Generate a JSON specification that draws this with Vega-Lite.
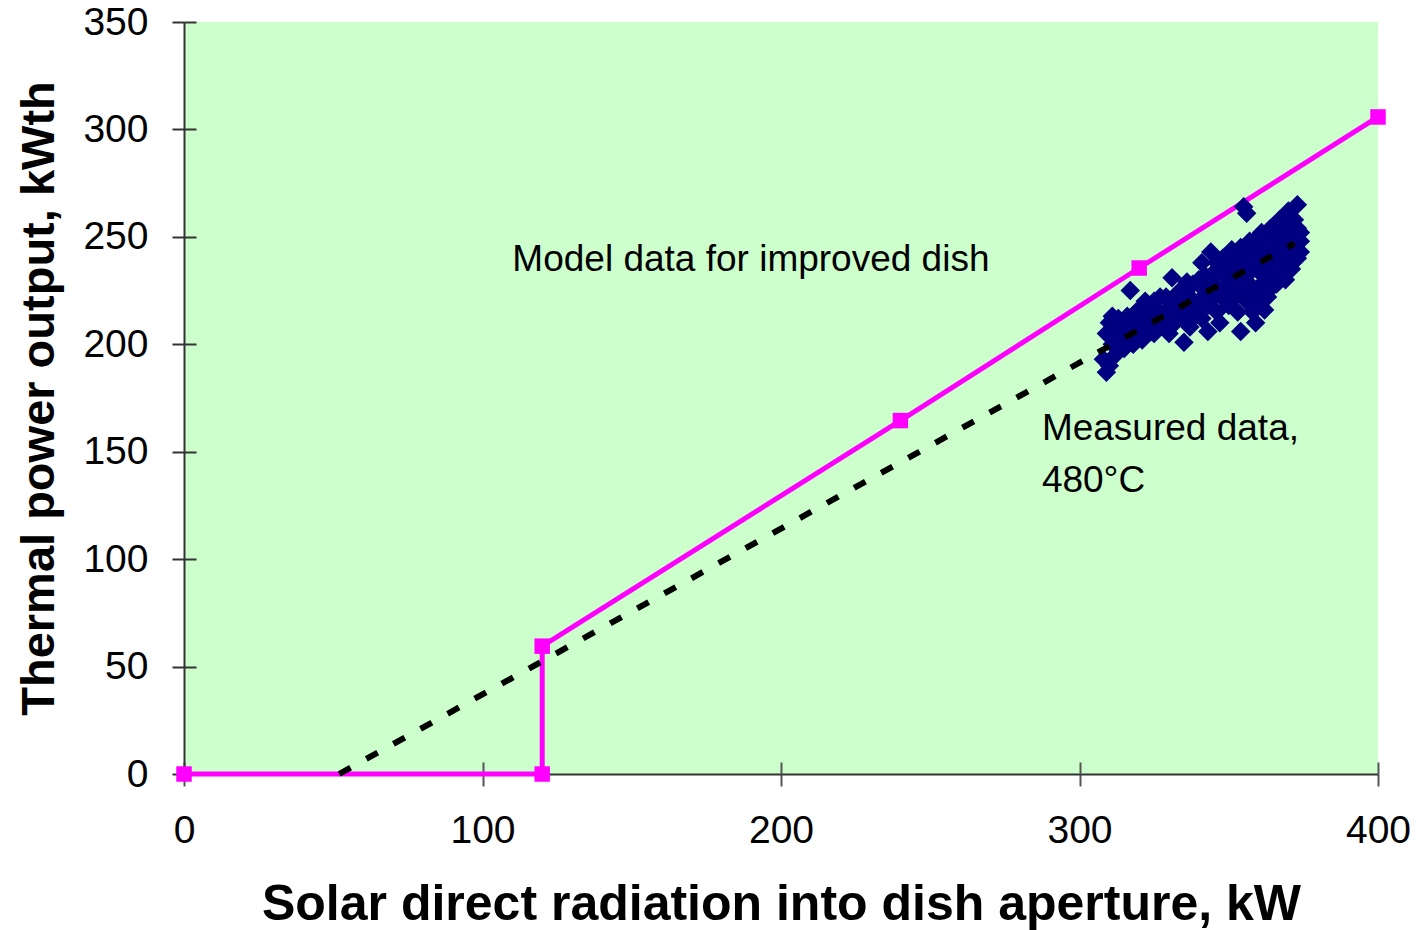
{
  "$schema": "https://vega.github.io/schema/vega-lite/v6.json",
  "autosize": {"type": "none"},
  "padding": {"left": 184, "top": 22, "right": 50, "bottom": 156},
  "width": 1194,
  "height": 752,
  "background": "#FFFFFF",
  "config": {
    "view": {"fill": "#CCFFCC", "stroke": null},
    "font": "Liberation Sans"
  },
  "datasets": {
    "model": [
      {"i": 1, "radiation": 0, "power": 0},
      {"i": 2, "radiation": 120, "power": 0},
      {"i": 3, "radiation": 120, "power": 59.5},
      {"i": 4, "radiation": 240, "power": 164.5},
      {"i": 5, "radiation": 320, "power": 235.5},
      {"i": 6, "radiation": 400, "power": 305.8}
    ],
    "trend": [
      {"radiation": 52, "power": 0},
      {"radiation": 372, "power": 247}
    ],
    "measured": [
      {"radiation": 308, "power": 193}, {"radiation": 309, "power": 187}, {"radiation": 310, "power": 190},
      {"radiation": 309, "power": 205}, {"radiation": 310, "power": 210}, {"radiation": 311, "power": 200},
      {"radiation": 312, "power": 195}, {"radiation": 312, "power": 207}, {"radiation": 313, "power": 212},
      {"radiation": 314, "power": 203}, {"radiation": 315, "power": 198}, {"radiation": 315, "power": 208},
      {"radiation": 316, "power": 213}, {"radiation": 317, "power": 225}, {"radiation": 318, "power": 205},
      {"radiation": 318, "power": 200}, {"radiation": 319, "power": 210}, {"radiation": 320, "power": 216},
      {"radiation": 320, "power": 205}, {"radiation": 321, "power": 202}, {"radiation": 322, "power": 210},
      {"radiation": 323, "power": 218}, {"radiation": 324, "power": 213}, {"radiation": 325, "power": 205},
      {"radiation": 325, "power": 220}, {"radiation": 326, "power": 208}, {"radiation": 327, "power": 215},
      {"radiation": 328, "power": 212}, {"radiation": 329, "power": 222}, {"radiation": 330, "power": 205},
      {"radiation": 330, "power": 217}, {"radiation": 331, "power": 231}, {"radiation": 332, "power": 210},
      {"radiation": 332, "power": 220}, {"radiation": 333, "power": 214}, {"radiation": 334, "power": 225},
      {"radiation": 335, "power": 201}, {"radiation": 335, "power": 218}, {"radiation": 336, "power": 212},
      {"radiation": 337, "power": 222}, {"radiation": 337, "power": 208}, {"radiation": 338, "power": 228},
      {"radiation": 339, "power": 216}, {"radiation": 340, "power": 220}, {"radiation": 340, "power": 230},
      {"radiation": 341, "power": 238}, {"radiation": 341, "power": 212}, {"radiation": 342, "power": 225},
      {"radiation": 343, "power": 206}, {"radiation": 343, "power": 218}, {"radiation": 344, "power": 243},
      {"radiation": 344, "power": 232}, {"radiation": 345, "power": 222}, {"radiation": 345, "power": 228},
      {"radiation": 346, "power": 215}, {"radiation": 347, "power": 210}, {"radiation": 347, "power": 234},
      {"radiation": 348, "power": 225}, {"radiation": 348, "power": 240}, {"radiation": 349, "power": 220},
      {"radiation": 350, "power": 230}, {"radiation": 350, "power": 218}, {"radiation": 351, "power": 236},
      {"radiation": 351, "power": 226}, {"radiation": 352, "power": 240}, {"radiation": 352, "power": 222},
      {"radiation": 353, "power": 230}, {"radiation": 353, "power": 215}, {"radiation": 354, "power": 206},
      {"radiation": 354, "power": 235}, {"radiation": 354, "power": 245}, {"radiation": 355, "power": 226},
      {"radiation": 355, "power": 264}, {"radiation": 355, "power": 240}, {"radiation": 356, "power": 261},
      {"radiation": 356, "power": 220}, {"radiation": 356, "power": 232}, {"radiation": 357, "power": 248},
      {"radiation": 357, "power": 228}, {"radiation": 358, "power": 238}, {"radiation": 358, "power": 215},
      {"radiation": 359, "power": 244}, {"radiation": 359, "power": 225}, {"radiation": 360, "power": 234},
      {"radiation": 360, "power": 250}, {"radiation": 360, "power": 220}, {"radiation": 361, "power": 240},
      {"radiation": 361, "power": 228}, {"radiation": 362, "power": 246}, {"radiation": 362, "power": 232},
      {"radiation": 363, "power": 252}, {"radiation": 363, "power": 236}, {"radiation": 363, "power": 222},
      {"radiation": 364, "power": 240}, {"radiation": 364, "power": 248}, {"radiation": 365, "power": 230},
      {"radiation": 365, "power": 255}, {"radiation": 366, "power": 244}, {"radiation": 366, "power": 236},
      {"radiation": 367, "power": 250}, {"radiation": 367, "power": 240}, {"radiation": 368, "power": 232},
      {"radiation": 368, "power": 258}, {"radiation": 368, "power": 245}, {"radiation": 369, "power": 238},
      {"radiation": 369, "power": 252}, {"radiation": 370, "power": 242}, {"radiation": 370, "power": 248},
      {"radiation": 370, "power": 262}, {"radiation": 371, "power": 235}, {"radiation": 371, "power": 255},
      {"radiation": 372, "power": 245}, {"radiation": 372, "power": 250}, {"radiation": 373, "power": 265},
      {"radiation": 373, "power": 240}, {"radiation": 374, "power": 248}, {"radiation": 374, "power": 243},
      {"radiation": 372, "power": 258}, {"radiation": 369, "power": 230}, {"radiation": 366, "power": 228},
      {"radiation": 364, "power": 226}, {"radiation": 362, "power": 216}, {"radiation": 359, "power": 210},
      {"radiation": 357, "power": 222},
      {"radiation": 311, "power": 213}, {"radiation": 313, "power": 205}, {"radiation": 316, "power": 202},
      {"radiation": 319, "power": 215}, {"radiation": 322, "power": 220}, {"radiation": 324, "power": 206},
      {"radiation": 327, "power": 222}, {"radiation": 329, "power": 210}, {"radiation": 333, "power": 224},
      {"radiation": 336, "power": 229}, {"radiation": 338, "power": 212}, {"radiation": 342, "power": 232},
      {"radiation": 346, "power": 238}, {"radiation": 349, "power": 233}, {"radiation": 351, "power": 244},
      {"radiation": 353, "power": 238}, {"radiation": 355, "power": 232}, {"radiation": 357, "power": 240},
      {"radiation": 358, "power": 246}, {"radiation": 360, "power": 242}, {"radiation": 361, "power": 252},
      {"radiation": 362, "power": 238}, {"radiation": 363, "power": 244}, {"radiation": 364, "power": 254},
      {"radiation": 365, "power": 246}, {"radiation": 366, "power": 252}, {"radiation": 367, "power": 234},
      {"radiation": 368, "power": 250}, {"radiation": 369, "power": 244}, {"radiation": 370, "power": 236},
      {"radiation": 371, "power": 250}, {"radiation": 373, "power": 254}, {"radiation": 374, "power": 252},
      {"radiation": 367, "power": 258}, {"radiation": 365, "power": 238}, {"radiation": 359, "power": 236},
      {"radiation": 356, "power": 244}, {"radiation": 354, "power": 226}, {"radiation": 352, "power": 232}
    ],
    "labels": [
      {"radiation": 110, "power": 239, "label": "Model data for improved dish"},
      {"radiation": 287.4, "power": 160.5, "label": "Measured data,"},
      {"radiation": 287.4, "power": 136.5, "label": "480°C"}
    ]
  },
  "layer": [
    {
      "data": {"name": "model"},
      "mark": {
        "type": "line",
        "color": "#FF00FF",
        "strokeWidth": 5,
        "point": {"shape": "square", "size": 240, "filled": true, "color": "#FF00FF", "opacity": 1}
      },
      "encoding": {
        "x": {
          "field": "radiation", "type": "quantitative",
          "scale": {"domain": [0, 400], "nice": false, "zero": true},
          "axis": {
            "title": "Solar direct radiation into dish aperture, kW",
            "values": [0, 100, 200, 300, 400],
            "grid": false,
            "domainColor": "#333333", "domainWidth": 2,
            "tickColor": "#555555", "tickWidth": 2, "tickSize": 12,
            "labelFont": "Liberation Sans", "labelFontSize": 39, "labelColor": "#000000",
            "labelPadding": 25, "labelFlush": false,
            "titleFont": "Liberation Sans", "titleFontSize": 50, "titleFontWeight": "bold",
            "titleColor": "#000000", "titlePadding": 29
          }
        },
        "y": {
          "field": "power", "type": "quantitative",
          "scale": {"domain": [0, 350], "nice": false},
          "axis": {
            "title": "Thermal power output, kWth",
            "values": [0, 50, 100, 150, 200, 250, 300, 350],
            "grid": false,
            "domainColor": "#333333", "domainWidth": 2,
            "tickColor": "#333333", "tickWidth": 2, "tickSize": 12,
            "labelFont": "Liberation Sans", "labelFontSize": 39, "labelColor": "#000000",
            "labelPadding": 24,
            "titleFont": "Liberation Sans", "titleFontSize": 47, "titleFontWeight": "bold",
            "titleColor": "#000000", "titlePadding": 19
          }
        },
        "order": {"field": "i", "type": "quantitative"}
      }
    },
    {
      "data": {"name": "measured"},
      "mark": {"type": "point", "shape": "diamond", "size": 380, "filled": true, "color": "#000080", "opacity": 1},
      "encoding": {
        "x": {"field": "radiation", "type": "quantitative",
              "axis": {"orient": "bottom", "values": [0, 100, 200, 300, 400], "grid": false, "domain": false, "labels": false, "title": null, "tickSize": -12, "tickWidth": 2, "tickColor": "#555555"}},
        "y": {"field": "power", "type": "quantitative",
              "axis": {"orient": "left", "values": [0, 50, 100, 150, 200, 250, 300, 350], "grid": false, "domain": false, "labels": false, "title": null, "tickSize": -12, "tickWidth": 2, "tickColor": "#333333"}}
      }
    },
    {
      "data": {"name": "trend"},
      "mark": {"type": "line", "color": "#000000", "strokeWidth": 6, "strokeDash": [13, 18], "strokeCap": "butt"},
      "encoding": {
        "x": {"field": "radiation", "type": "quantitative", "axis": null},
        "y": {"field": "power", "type": "quantitative", "axis": null}
      }
    },
    {
      "data": {"name": "labels"},
      "mark": {"type": "text", "align": "left", "baseline": "middle", "font": "Liberation Sans", "fontSize": 37, "color": "#000000"},
      "encoding": {
        "x": {"field": "radiation", "type": "quantitative", "axis": null},
        "y": {"field": "power", "type": "quantitative", "axis": null},
        "text": {"field": "label", "type": "nominal"}
      }
    }
  ],
  "resolve": {"axis": {"x": "independent", "y": "independent"}}
}
